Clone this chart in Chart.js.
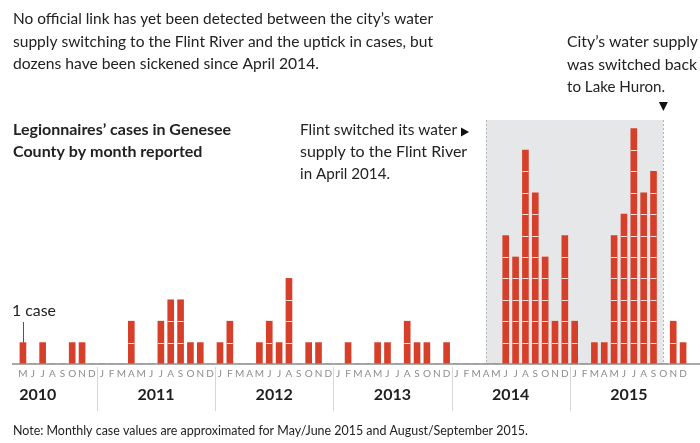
<!DOCTYPE html>
<html>
<head>
<meta charset="utf-8">
<script src="https://cdn.jsdelivr.net/npm/chart.js@4"></script>
<style>
  body { margin: 0; background: #fff; }
  #wrap { width: 700px; height: 443px; }
</style>
</head>
<body>
<div id="wrap"><canvas id="casesChart" width="700" height="443"></canvas></div>
<script>
// months shown on the axis, May 2010 .. Dec 2015
var years = ["2010", "2011", "2012", "2013", "2014", "2015"];
var monthLetters = ["J", "F", "M", "A", "M", "J", "J", "A", "S", "O", "N", "D"];
var firstMonth2010 = 4; // chart starts in May 2010

var cases2010 = [1, 0, 1, 0, 0, 1, 1, 0];
var cases2011 = [0, 0, 0, 2, 0, 0, 2, 3, 3, 1, 1, 0];
var cases2012 = [1, 2, 0, 0, 1, 2, 1, 4, 0, 1, 1, 0];
var cases2013 = [0, 1, 0, 0, 1, 1, 0, 2, 1, 1, 0, 1];
var cases2014 = [0, 0, 0, 0, 0, 6, 5, 10, 8, 5, 2, 6];
var cases2015 = [2, 0, 1, 1, 6, 7, 11, 8, 9, 0, 2, 1];

// shaded period: Flint River water, Apr 2014 -> Oct 2015
var switchToRiver = "Apr 2014";
var switchBack = "Oct 2015";

var monthNames = ["Jan", "Feb", "Mar", "Apr", "May", "Jun", "Jul", "Aug", "Sep", "Oct", "Nov", "Dec"];

document.addEventListener("DOMContentLoaded", function() {
  var cases = [].concat(cases2010, cases2011, cases2012, cases2013, cases2014, cases2015);
  var keys = [];
  var labels = [];
  years.forEach(function(y, yi) {
    var start = yi === 0 ? firstMonth2010 : 0;
    for (var m = start; m < 12; m++) {
      keys.push(monthNames[m] + " " + y);
      labels.push(monthLetters[m]);
    }
  });

  function txt(ctx, s, x, y, font, maxW, color, align) {
    ctx.font = font;
    ctx.fillStyle = color || "#222";
    ctx.textAlign = align || "left";
    ctx.textBaseline = "alphabetic";
    if (maxW) ctx.fillText(s, x, y, maxW); else ctx.fillText(s, x, y);
  }

  var shadePlugin = {
    id: "shade",
    beforeDatasetsDraw: function(chart) {
      var ctx = chart.ctx;
      var xs = chart.scales.x, ys = chart.scales.y;
      var x1 = xs.getPixelForValue(keys.indexOf(switchToRiver));
      var x2 = xs.getPixelForValue(keys.indexOf(switchBack));
      var top = ys.getPixelForValue(ys.max);
      var bottom = ys.getPixelForValue(0);
      ctx.save();
      ctx.fillStyle = "#e6e7e8";
      ctx.fillRect(x1, top, x2 - x1, bottom - top);
      ctx.strokeStyle = "#b5b5b5";
      ctx.lineWidth = 1;
      ctx.setLineDash([2, 2]);
      ctx.beginPath();
      ctx.moveTo(Math.round(x1) + 0.5, top); ctx.lineTo(Math.round(x1) + 0.5, bottom);
      ctx.moveTo(Math.round(x2) + 0.5, top); ctx.lineTo(Math.round(x2) + 0.5, bottom);
      ctx.stroke();
      ctx.restore();
    },
    afterDatasetsDraw: function(chart) {
      var ctx = chart.ctx;
      var ys = chart.scales.y;
      var meta = chart.getDatasetMeta(0);
      ctx.save();
      // white gaps between single cases
      ctx.strokeStyle = "rgba(255,255,255,0.85)";
      ctx.lineWidth = 1;
      meta.data.forEach(function(bar, i) {
        for (var k = 1; k < cases[i]; k++) {
          var y = Math.round(ys.getPixelForValue(k)) + 0.5;
          ctx.beginPath();
          ctx.moveTo(bar.x - bar.width / 2, y);
          ctx.lineTo(bar.x + bar.width / 2, y);
          ctx.stroke();
        }
      });
      // baseline
      var base = ys.getPixelForValue(0);
      ctx.strokeStyle = "#8c8c8c";
      ctx.lineWidth = 1.5;
      ctx.beginPath();
      ctx.moveTo(12, base);
      ctx.lineTo(700, base);
      ctx.stroke();
      ctx.restore();
    },
    afterDraw: function(chart) {
      var ctx = chart.ctx;
      var xs = chart.scales.x, ys = chart.scales.y;
      var x0 = xs.getPixelForValue(0);
      var step = xs.getPixelForValue(1) - x0;
      var base = ys.getPixelForValue(0);
      var reg = "16px Lato, 'Open Sans', sans-serif";
      var bold = "bold 16px Lato, 'Open Sans', sans-serif";
      ctx.save();

      // year separators and labels
      ctx.strokeStyle = "#d6d6d6";
      ctx.lineWidth = 1;
      years.forEach(function(y, yi) {
        var jan = yi * 12 - firstMonth2010; // index of January (may be off chart)
        if (yi > 0) {
          var sx = Math.round(x0 + step * (jan - 0.5)) + 0.5;
          ctx.beginPath();
          ctx.moveTo(sx, base + 3);
          ctx.lineTo(sx, base + 47);
          ctx.stroke();
        }
        txt(ctx, y, x0 + step * (jan + 5.5), base + 36, "bold 16px Lato, sans-serif", null, "#1e1e1e", "center");
      });

      // "1 case" marker
      txt(ctx, "1 case", 12, 316, reg, 44, "#222");
      ctx.strokeStyle = "#555";
      ctx.lineWidth = 1;
      ctx.beginPath();
      ctx.moveTo(Math.round(x0) + 0.5, 322);
      ctx.lineTo(Math.round(x0) + 0.5, ys.getPixelForValue(1));
      ctx.stroke();

      // intro
      txt(ctx, "No official link has yet been detected between the city\u2019s water", 13, 24, reg, 420);
      txt(ctx, "supply switching to the Flint River and the uptick in cases, but", 13, 47, reg, 420);
      txt(ctx, "dozens have been sickened since April 2014.", 13, 69, reg, 306);

      // chart title
      txt(ctx, "Legionnaires\u2019 cases in Genesee", 13, 135, bold, 228);
      txt(ctx, "County by month reported", 13, 157, bold, 198);

      // switch to river
      txt(ctx, "Flint switched its water", 300, 135, reg, 157);
      txt(ctx, "supply to the Flint River", 300, 157, reg, 176);
      txt(ctx, "in April 2014.", 300, 179, reg, 90);
      ctx.fillStyle = "#111";
      ctx.beginPath();
      ctx.moveTo(461, 127.5); ctx.lineTo(469, 132); ctx.lineTo(461, 136.5); ctx.closePath();
      ctx.fill();

      // switch back
      txt(ctx, "City\u2019s water supply", 567, 47, reg, 131);
      txt(ctx, "was switched back", 567, 70, reg, 130);
      txt(ctx, "to Lake Huron.", 567, 92, reg, 98);
      var bx = xs.getPixelForValue(keys.indexOf(switchBack));
      ctx.fillStyle = "#111";
      ctx.beginPath();
      ctx.moveTo(bx - 4.5, 102); ctx.lineTo(bx + 4.5, 102); ctx.lineTo(bx, 111); ctx.closePath();
      ctx.fill();

      // note
      txt(ctx, "Note: Monthly case values are approximated for May/June 2015 and August/September 2015.", 13, 435, "12.5px Lato, 'Open Sans', sans-serif", 515, "#222");
      ctx.restore();
    }
  };

  var ctx = document.getElementById("casesChart").getContext("2d");
  new Chart(ctx, {
    type: "bar",
    data: {
      labels: labels,
      datasets: [{
        label: "Cases",
        data: cases,
        backgroundColor: "#d6402b",
        borderWidth: 0,
        barThickness: 6
      }]
    },
    options: {
      responsive: false,
      animation: false,
      layout: { padding: { left: 18, right: 12, top: 120, bottom: 0 } },
      plugins: {
        legend: { display: false },
        tooltip: { enabled: false }
      },
      scales: {
        x: {
          grid: { display: false, drawTicks: false },
          border: { display: false },
          ticks: {
            autoSkip: false,
            maxRotation: 0,
            padding: 4,
            color: "#8c8c8c",
            font: { family: "Lato", size: 10 }
          },
          afterFit: function(scale) { scale.height = 79; }
        },
        y: {
          display: false,
          min: 0,
          max: 11.4
        }
      }
    },
    plugins: [shadePlugin]
  });
});
</script>
</body>
</html>
